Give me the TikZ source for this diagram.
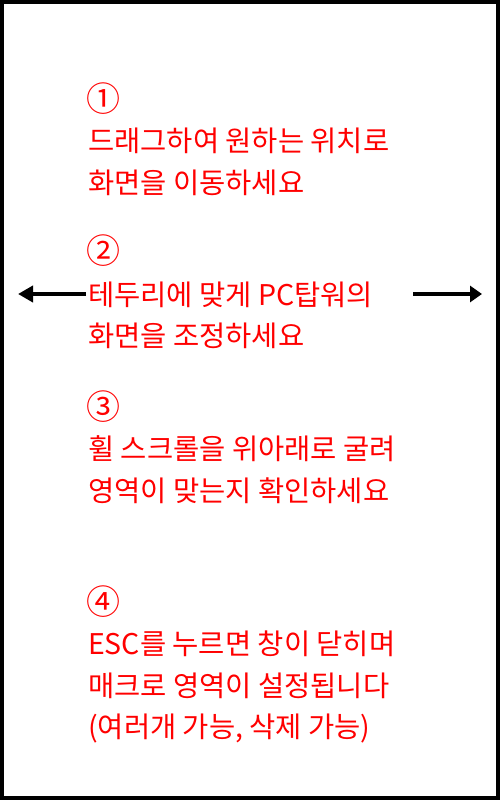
\documentclass[tikz,border=0pt]{standalone}
\usepackage{fontspec}
\setmainfont{Noto Sans CJK KR}
\usetikzlibrary{arrows.meta}
\tikzset{tx/.style = {anchor=base west, inner sep=0pt, text=red, font=\fontsize{28.5}{28.5}\selectfont},
           nm/.style = {tx, font=\fontsize{34}{34}\selectfont},
           ar/.style = {line width=4pt},
           bx/.style = {line width=4pt, draw=black}}

\begin{document}
\begin{tikzpicture}[x=1pt, y=-1pt]
    \useasboundingbox (0,0) rectangle (500,800);
    \draw[bx] (2,2) rectangle (498,798);
    \node[nm] (n1) at (86,111) {①};
    \node[tx] (l1a) at (88,151) {드래그하여 원하는 위치로};
    \node[tx] (l1b) at (88,193) {화면을 이동하세요};
    \node[nm] (n2) at (86,263) {②};
    \node[tx] (l2a) at (88,305) {테두리에 맞게 PC탑워의};
    \node[tx] (l2b) at (88,346) {화면을 조정하세요};
    \node[nm] (n3) at (86,419) {③};
    \node[tx] (l3a) at (88,459) {휠 스크롤을 위아래로 굴려};
    \node[tx] (l3b) at (88,501) {영역이 맞는지 확인하세요};
    \node[nm] (n4) at (86,614) {④};
    \node[tx] (l4a) at (88,654) {ESC를 누르면 창이 닫히며};
    \node[tx] (l4b) at (88,696) {매크로 영역이 설정됩니다};
    \node[tx] (l4c) at (88,737) {(여러개 가능, 삭제 가능)};
    \coordinate (ls) at (86,294); \coordinate (le) at (18,294);
    \coordinate (rs) at (413,294); \coordinate (re) at (482,294);
    \draw[ar, -{Triangle[length=15pt, width=16pt]}] (ls) -- (le);
    \draw[ar, -{Triangle[length=12pt, width=16pt]}] (rs) -- (re);
\end{tikzpicture}
\end{document}
